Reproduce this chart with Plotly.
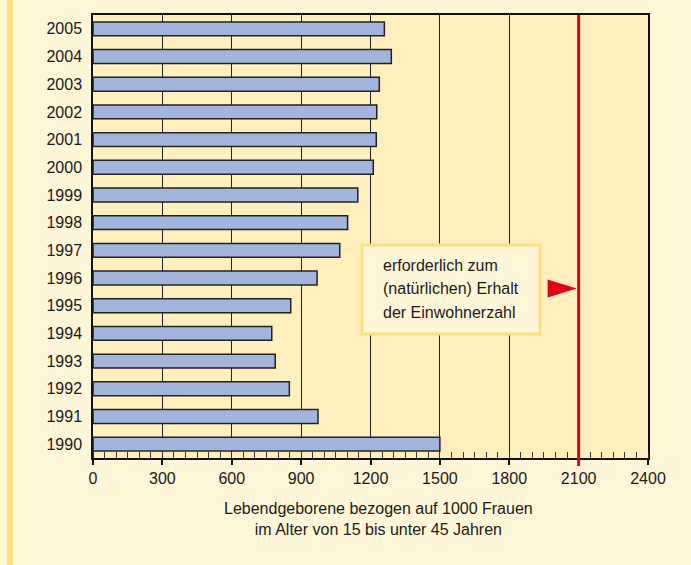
import plotly.graph_objects as go

years = [str(y) for y in range(1990, 2006)]
births = [1500, 973, 849, 788, 773, 855, 969, 1067, 1101, 1145, 1212, 1225, 1227, 1238, 1290, 1260]
x_ticks = [0, 300, 600, 900, 1200, 1500, 1800, 2100, 2400]
required_level = 2100
note_lines = ["erforderlich zum", "(natürlichen) Erhalt", "der Einwohnerzahl"]
axis_title_lines = ["Lebendgeborene bezogen auf 1000 Frauen", "im Alter von 15 bis unter 45 Jahren"]

W, H = 691, 565
L, R, T, B = 93, 43, 15, 107
PW, PH = W - L - R, H - T - B

def px(xp):
    return (xp - L) / PW

def py(yp):
    return (H - B - yp) / PH

FONT = "Liberation Sans, Arial, sans-serif"
TXT = "#1a1a1a"
PAGE_BG = "#fff5d7"

fig = go.Figure(go.Bar(
    y=years, x=births, orientation="h",
    marker=dict(color="#a3b5dd", line=dict(color="#222222", width=1.5)),
    width=0.5, hoverinfo="x+y",
))

shapes = [
    # left decorative strip
    dict(type="rect", xref="paper", yref="paper", x0=px(7), x1=px(13), y0=py(H + 5), y1=py(-5),
         fillcolor="#f9e07a", line=dict(width=0), layer="below"),
    # required level line
    dict(type="line", xref="x", yref="paper", x0=required_level, x1=required_level,
         y0=py(466), y1=1, line=dict(color="#e2001a", width=3)),
    # note box
    dict(type="rect", xref="paper", yref="paper", x0=px(362), x1=px(540), y0=py(334), y1=py(245),
         fillcolor=PAGE_BG, line=dict(color="#fae07e", width=3)),
    # arrow head pointing at the line
    dict(type="path", xref="x", yref="paper", xsizemode="pixel", ysizemode="pixel",
         xanchor=required_level, yanchor=py(288.5),
         path="M-31,9 L-2,0 L-31,-9 Z", fillcolor="#e2001a", line=dict(width=0)),
]

annotations = []
for i, line in enumerate(note_lines):
    annotations.append(dict(
        xref="paper", yref="paper", x=px(381), y=py(265 + i * 23.5),
        xanchor="left", yanchor="middle", text=line, showarrow=False,
        font=dict(family=FONT, size=16, color=TXT)))

annotations.append(dict(
    xref="paper", yref="paper", x=px(378), y=py(518.5), xanchor="center", yanchor="middle",
    text="<br>".join(axis_title_lines), showarrow=False,
    font=dict(family=FONT, size=16, color=TXT)))

fig.update_layout(
    width=W, height=H,
    margin=dict(l=L, r=R, t=T, b=B, pad=0),
    paper_bgcolor=PAGE_BG, plot_bgcolor="#ffefbd",
    showlegend=False,
    font=dict(family=FONT, size=16, color=TXT),
    shapes=shapes, annotations=annotations,
    xaxis=dict(
        range=[0, 2400], tickvals=x_ticks, ticktext=[str(v) for v in x_ticks],
        showgrid=True, gridcolor="#222222", gridwidth=1,
        showline=True, linecolor="#111111", linewidth=1.5, mirror=True,
        ticks="outside", ticklen=5, tickcolor="#111111", tickwidth=1.5,
        minor=dict(dtick=50, tick0=0, ticks="inside", ticklen=6, tickcolor="#333333", tickwidth=1, showgrid=False),
        zeroline=False, fixedrange=True,
        tickfont=dict(family=FONT, size=16, color=TXT),
    ),
    yaxis=dict(
        type="category", categoryorder="array", categoryarray=years,
        range=[-0.5, len(years) - 0.5],
        showgrid=False, showline=True, linecolor="#111111", linewidth=1.5, mirror=True,
        ticks="", ticklabelstandoff=6, fixedrange=True,
        tickfont=dict(family=FONT, size=16, color=TXT),
    ),
)

fig.write_html(
    "out.html",
    config={"displayModeBar": False},
    post_script="document.body.style.margin='0';document.body.style.background='%s';" % PAGE_BG,
)
